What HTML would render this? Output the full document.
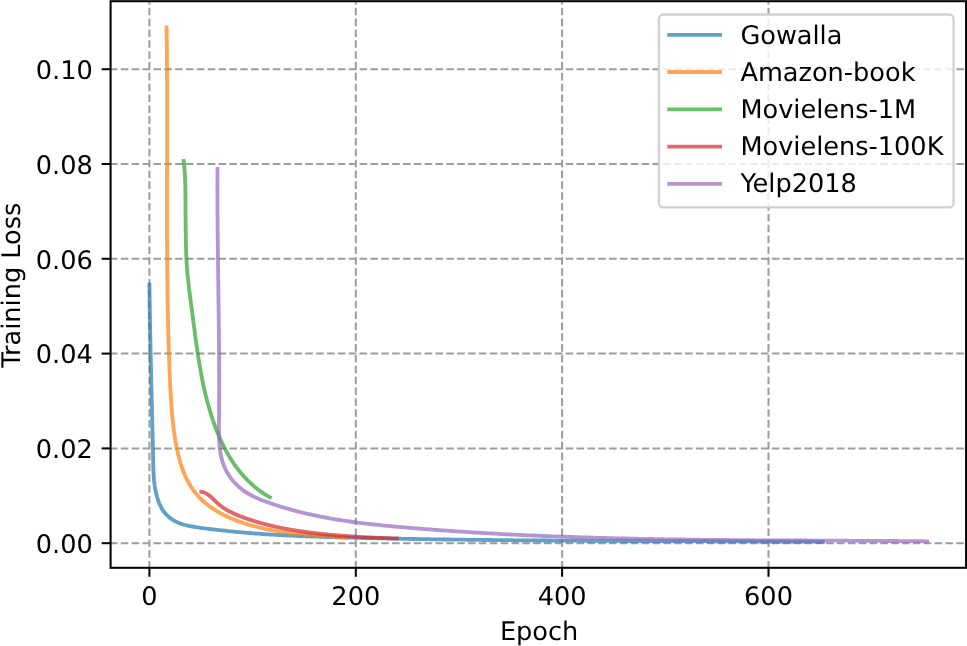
<!DOCTYPE html>
<html><head><meta charset="utf-8"><title>Training Loss</title>
<style>
html,body{margin:0;padding:0;background:#fff;}
body{width:967px;height:646px;overflow:hidden;}
svg{display:block;}
text{text-rendering:geometricPrecision;font-family:"DejaVu Sans","Liberation Sans",sans-serif;font-size:25.6px;fill:#000;}
</style></head><body>
<svg width="967" height="646" viewBox="0 0 967 646">
<rect width="967" height="646" fill="#fff"/>
<g stroke="#9d9d9d" stroke-opacity="1" stroke-width="2.04" stroke-dasharray="7.57 3.28" fill="none">
<path d="M149.4,568.65 V1.2"/>
<path d="M355.8,568.65 V1.2"/>
<path d="M562.1,568.65 V1.2"/>
<path d="M768.5,568.65 V1.2"/>
<path d="M110.0,543.2 H966.1"/>
<path d="M110.0,448.4 H966.1"/>
<path d="M110.0,353.6 H966.1"/>
<path d="M110.0,258.8 H966.1"/>
<path d="M110.0,164.0 H966.1"/>
<path d="M110.0,69.2 H966.1"/>
</g>
<g fill="none" stroke-width="3.84" stroke-opacity="0.7" stroke-linejoin="round">
<path stroke="#1f77b4" d="M149.4,282.8 L149.4,284.6 L149.4,286.4 L149.5,288.2 L149.5,290.1 L149.5,291.9 L149.5,293.7 L149.6,295.5 L149.6,297.3 L149.6,299.1 L149.6,300.9 L149.7,302.7 L149.7,304.5 L149.7,306.3 L149.7,308.1 L149.8,309.9 L149.8,311.7 L149.8,313.5 L149.9,315.3 L149.9,317.1 L149.9,318.9 L150.0,320.7 L150.0,322.5 L150.0,324.3 L150.1,326.1 L150.1,327.9 L150.1,329.7 L150.2,331.5 L150.2,333.3 L150.2,335.1 L150.3,336.9 L150.3,338.7 L150.4,340.5 L150.4,342.3 L150.4,344.0 L150.5,345.8 L150.5,347.6 L150.5,349.4 L150.6,351.2 L150.6,353.0 L150.6,353.1 L150.7,354.8 L150.7,356.6 L150.7,358.4 L150.8,360.2 L150.8,361.9 L150.9,363.7 L150.9,365.5 L151.0,367.3 L151.0,369.1 L151.0,370.9 L151.1,372.7 L151.1,374.5 L151.2,376.2 L151.2,378.0 L151.3,379.8 L151.3,381.6 L151.3,383.4 L151.4,385.2 L151.4,387.0 L151.5,388.8 L151.5,390.6 L151.6,392.3 L151.6,394.1 L151.6,395.9 L151.7,397.7 L151.7,399.5 L151.8,401.3 L151.8,402.6 L151.8,403.1 L151.9,404.9 L151.9,406.7 L152.0,408.5 L152.0,410.3 L152.0,412.1 L152.1,413.8 L152.1,415.6 L152.2,417.4 L152.2,419.2 L152.3,421.0 L152.3,422.8 L152.3,424.6 L152.4,426.4 L152.4,428.2 L152.5,430.0 L152.5,431.8 L152.6,433.6 L152.6,435.4 L152.6,435.7 L152.6,437.2 L152.7,439.0 L152.7,440.8 L152.8,442.6 L152.8,444.4 L152.8,446.3 L152.9,448.1 L152.9,449.9 L153.0,451.7 L153.0,453.5 L153.0,455.3 L153.1,457.1 L153.1,458.9 L153.1,460.0 L153.2,460.7 L153.2,462.6 L153.2,464.4 L153.3,466.2 L153.3,468.0 L153.4,469.8 L153.5,471.6 L153.6,473.4 L153.7,475.2 L153.8,477.1 L153.9,478.9 L154.0,480.2 L154.1,480.6 L154.3,482.4 L154.5,484.2 L154.7,486.0 L155.0,487.8 L155.3,489.5 L155.3,489.5 L155.7,491.3 L156.1,493.1 L156.5,494.8 L156.9,496.5 L157.5,498.3 L157.6,498.7 L158.0,500.0 L158.6,501.7 L159.3,503.4 L160.0,505.0 L160.4,505.9 L160.8,506.6 L161.6,508.2 L162.5,509.7 L163.5,511.2 L164.3,512.2 L164.6,512.6 L165.7,514.0 L166.9,515.2 L168.2,516.4 L168.7,516.9 L169.5,517.6 L170.9,518.6 L172.3,519.6 L173.0,520.0 L173.8,520.5 L175.3,521.3 L176.9,522.1 L178.5,522.8 L180.1,523.4 L181.7,524.0 L181.8,524.0 L183.4,524.5 L185.1,525.0 L186.9,525.4 L188.6,525.8 L190.4,526.2 L191.0,526.3 L192.2,526.5 L194.0,526.8 L195.8,527.1 L197.6,527.4 L199.4,527.6 L200.5,527.8 L201.2,527.9 L203.0,528.1 L204.8,528.3 L206.6,528.6 L208.4,528.8 L209.9,529.0 L210.2,529.0 L212.0,529.3 L213.8,529.5 L215.7,529.7 L217.5,529.9 L219.3,530.1 L221.1,530.3 L222.9,530.5 L224.7,530.7 L225.0,530.7 L226.5,530.9 L228.3,531.1 L230.1,531.3 L231.9,531.4 L233.7,531.6 L235.5,531.8 L237.3,532.0 L239.1,532.1 L239.4,532.1 L240.9,532.3 L242.7,532.4 L244.5,532.6 L246.3,532.8 L248.1,532.9 L249.9,533.0 L251.7,533.2 L253.5,533.3 L255.3,533.5 L257.1,533.6 L258.9,533.7 L260.2,533.8 L260.7,533.9 L262.5,534.0 L264.3,534.1 L266.1,534.2 L267.9,534.4 L269.7,534.5 L271.5,534.6 L273.3,534.7 L275.0,534.8 L276.8,534.9 L278.6,535.0 L278.8,535.0 L280.4,535.1 L282.2,535.2 L284.0,535.3 L285.8,535.4 L287.6,535.5 L289.4,535.6 L291.2,535.7 L293.0,535.7 L294.8,535.8 L296.6,535.9 L297.4,535.9 L298.4,536.0 L300.2,536.1 L301.9,536.1 L303.7,536.2 L305.5,536.3 L307.3,536.4 L309.1,536.4 L310.9,536.5 L312.7,536.6 L314.5,536.6 L316.3,536.7 L318.1,536.7 L319.9,536.8 L321.7,536.9 L323.4,536.9 L325.2,537.0 L327.0,537.0 L328.8,537.1 L330.6,537.1 L332.4,537.2 L334.2,537.2 L336.0,537.3 L337.8,537.3 L339.6,537.4 L341.4,537.4 L343.1,537.5 L344.9,537.5 L346.7,537.6 L348.5,537.6 L350.3,537.7 L352.1,537.7 L353.9,537.8 L355.5,537.8 L355.7,537.8 L357.5,537.8 L359.3,537.9 L361.1,537.9 L362.9,538.0 L364.6,538.0 L366.4,538.0 L368.2,538.1 L370.0,538.1 L371.8,538.2 L373.6,538.2 L375.4,538.2 L377.2,538.3 L379.0,538.3 L380.8,538.4 L382.6,538.4 L384.4,538.4 L386.2,538.5 L388.0,538.5 L389.8,538.5 L391.5,538.6 L393.3,538.6 L395.1,538.6 L396.9,538.7 L398.7,538.7 L399.2,538.7 L400.5,538.7 L402.3,538.8 L404.1,538.8 L405.9,538.8 L407.7,538.9 L409.5,538.9 L411.3,538.9 L413.1,539.0 L414.9,539.0 L416.7,539.0 L418.5,539.1 L420.3,539.1 L422.1,539.1 L423.9,539.2 L425.7,539.2 L427.5,539.2 L429.3,539.2 L431.0,539.3 L432.8,539.3 L434.6,539.3 L436.4,539.3 L438.2,539.4 L440.0,539.4 L441.8,539.4 L443.6,539.5 L445.4,539.5 L447.2,539.5 L449.0,539.5 L450.8,539.6 L452.6,539.6 L454.4,539.6 L456.2,539.6 L458.0,539.7 L459.8,539.7 L459.9,539.7 L461.6,539.7 L463.4,539.7 L465.2,539.7 L467.0,539.8 L468.8,539.8 L470.6,539.8 L472.4,539.8 L474.2,539.9 L476.0,539.9 L477.8,539.9 L479.6,539.9 L481.4,539.9 L483.2,540.0 L485.0,540.0 L486.8,540.0 L488.6,540.0 L490.4,540.0 L492.2,540.1 L494.0,540.1 L495.8,540.1 L497.6,540.1 L499.4,540.1 L501.2,540.1 L503.0,540.2 L504.8,540.2 L506.6,540.2 L508.4,540.2 L510.2,540.2 L512.0,540.2 L513.8,540.3 L515.6,540.3 L517.3,540.3 L519.1,540.3 L520.9,540.3 L522.7,540.3 L524.5,540.4 L526.3,540.4 L528.1,540.4 L529.9,540.4 L531.7,540.4 L533.5,540.4 L535.3,540.4 L537.1,540.5 L538.9,540.5 L540.7,540.5 L542.5,540.5 L544.3,540.5 L546.1,540.5 L547.9,540.5 L549.7,540.5 L551.5,540.6 L553.3,540.6 L555.1,540.6 L556.9,540.6 L558.7,540.6 L560.5,540.6 L561.8,540.6 L562.3,540.6 L564.1,540.6 L565.9,540.7 L567.7,540.7 L569.5,540.7 L571.3,540.7 L573.1,540.7 L574.9,540.7 L576.7,540.7 L578.5,540.7 L580.3,540.7 L582.1,540.7 L583.9,540.8 L585.7,540.8 L587.5,540.8 L589.3,540.8 L591.1,540.8 L592.9,540.8 L594.7,540.8 L596.5,540.8 L598.3,540.8 L600.1,540.8 L601.9,540.9 L603.7,540.9 L605.5,540.9 L607.3,540.9 L609.1,540.9 L610.9,540.9 L612.7,540.9 L614.5,540.9 L616.3,540.9 L618.1,540.9 L619.9,540.9 L620.0,540.9 L621.7,540.9 L623.5,540.9 L625.3,541.0 L627.1,541.0 L628.9,541.0 L630.7,541.0 L632.5,541.0 L634.3,541.0 L636.1,541.0 L637.9,541.0 L639.7,541.0 L641.5,541.0 L643.3,541.0 L645.1,541.0 L646.9,541.0 L648.7,541.0 L650.5,541.1 L652.3,541.1 L654.1,541.1 L655.9,541.1 L657.7,541.1 L659.5,541.1 L661.3,541.1 L663.1,541.1 L664.9,541.1 L666.7,541.1 L668.5,541.1 L670.3,541.1 L672.1,541.1 L673.9,541.1 L675.7,541.1 L677.5,541.1 L679.3,541.2 L681.1,541.2 L682.9,541.2 L684.7,541.2 L686.5,541.2 L688.3,541.2 L690.1,541.2 L691.9,541.2 L693.7,541.2 L695.5,541.2 L697.3,541.2 L699.1,541.2 L700.9,541.2 L702.7,541.2 L704.5,541.2 L706.3,541.2 L708.1,541.3 L709.9,541.3 L711.7,541.3 L713.5,541.3 L715.3,541.3 L717.1,541.3 L718.9,541.3 L720.7,541.3 L722.5,541.3 L724.3,541.3 L726.1,541.3 L727.9,541.3 L729.7,541.3 L731.5,541.3 L733.3,541.3 L735.1,541.3 L736.9,541.4 L738.7,541.4 L740.5,541.4 L742.2,541.4 L744.0,541.4 L745.8,541.4 L747.6,541.4 L749.4,541.4 L751.2,541.4 L753.0,541.4 L754.8,541.4 L756.6,541.4 L758.4,541.4 L760.2,541.5 L762.0,541.5 L763.8,541.5 L765.6,541.5 L767.4,541.5 L769.2,541.5 L771.0,541.5 L772.8,541.5 L774.6,541.5 L776.4,541.5 L778.2,541.5 L780.0,541.5 L780.1,541.5 L781.8,541.5 L783.6,541.6 L785.3,541.6 L787.1,541.6 L788.9,541.6 L790.7,541.6 L792.5,541.6 L794.3,541.6 L796.1,541.6 L797.9,541.6 L799.7,541.6 L801.5,541.7 L803.3,541.7 L805.1,541.7 L806.9,541.7 L808.7,541.7 L810.5,541.7 L812.3,541.7 L814.0,541.7 L815.8,541.7 L817.6,541.8 L819.4,541.8 L821.2,541.8 L823.0,541.8 L824.8,541.8"/>
<path stroke="#ff7f0e" d="M166.5,25.4 L166.5,26.7 L166.5,27.9 L166.6,29.2 L166.6,30.5 L166.6,31.7 L166.6,33.0 L166.6,34.2 L166.7,35.5 L166.7,36.8 L166.7,38.0 L166.7,39.3 L166.7,40.6 L166.7,41.8 L166.8,43.1 L166.8,44.4 L166.8,45.6 L166.8,46.9 L166.8,48.2 L166.8,49.4 L166.8,50.7 L166.9,52.0 L166.9,53.2 L166.9,54.5 L166.9,55.8 L166.9,57.0 L166.9,58.3 L166.9,59.6 L166.9,60.8 L166.9,62.1 L167.0,63.4 L167.0,64.7 L167.0,65.9 L167.0,67.2 L167.0,68.5 L167.0,69.7 L167.0,71.0 L167.0,72.3 L167.0,73.6 L167.0,74.8 L167.0,76.1 L167.0,77.4 L167.1,78.6 L167.1,79.9 L167.1,81.2 L167.1,82.5 L167.1,83.7 L167.1,85.0 L167.1,86.3 L167.1,87.5 L167.1,88.8 L167.1,90.1 L167.1,91.4 L167.1,92.6 L167.1,93.9 L167.1,95.2 L167.1,96.5 L167.1,97.7 L167.1,99.0 L167.1,100.3 L167.1,101.6 L167.1,102.8 L167.1,104.1 L167.1,105.4 L167.1,106.7 L167.1,107.9 L167.1,109.2 L167.1,110.5 L167.1,111.8 L167.1,113.0 L167.1,114.3 L167.1,115.6 L167.1,116.9 L167.1,118.1 L167.1,119.4 L167.1,120.7 L167.1,122.0 L167.1,123.2 L167.1,124.5 L167.1,125.8 L167.1,127.1 L167.1,128.4 L167.1,129.6 L167.1,130.9 L167.1,132.2 L167.1,133.5 L167.1,134.7 L167.1,136.0 L167.1,137.3 L167.1,138.6 L167.1,138.8 L167.1,139.9 L167.1,141.1 L167.1,142.4 L167.1,143.7 L167.1,145.0 L167.1,146.2 L167.1,147.5 L167.1,148.8 L167.1,150.1 L167.1,151.4 L167.1,152.6 L167.1,153.9 L167.1,155.2 L167.1,156.5 L167.1,157.8 L167.1,159.0 L167.1,160.3 L167.1,161.6 L167.1,162.9 L167.1,164.2 L167.1,165.4 L167.1,166.7 L167.1,168.0 L167.1,169.3 L167.1,170.6 L167.0,171.8 L167.0,173.1 L167.0,174.4 L167.0,175.7 L167.0,176.9 L167.0,178.2 L167.0,179.5 L167.0,180.8 L167.0,182.1 L167.0,183.3 L167.0,184.6 L167.0,185.9 L167.0,187.2 L167.0,188.5 L167.0,189.7 L167.0,191.0 L167.0,192.3 L167.0,193.6 L167.0,194.9 L167.0,196.1 L167.0,197.4 L167.0,198.7 L167.0,200.0 L167.0,201.3 L167.0,202.5 L167.0,203.8 L167.0,205.1 L167.0,206.4 L167.0,207.7 L167.0,208.9 L167.0,210.2 L167.0,211.5 L167.0,212.8 L167.0,214.1 L167.0,215.3 L167.0,216.6 L167.0,217.9 L167.0,219.2 L167.0,220.5 L167.0,221.7 L167.0,223.0 L167.0,224.3 L167.0,225.6 L167.0,226.9 L167.0,228.1 L167.0,229.4 L167.0,230.7 L167.0,232.0 L167.0,233.2 L167.0,234.5 L167.0,235.8 L167.0,237.1 L167.0,238.4 L167.0,239.6 L167.0,240.9 L167.1,242.2 L167.1,243.5 L167.1,244.8 L167.1,246.0 L167.1,246.3 L167.1,247.3 L167.1,248.6 L167.1,249.9 L167.1,251.1 L167.1,252.4 L167.1,253.7 L167.1,255.0 L167.1,256.3 L167.1,257.5 L167.1,258.8 L167.2,260.1 L167.2,261.4 L167.2,262.6 L167.2,263.9 L167.2,265.2 L167.2,266.5 L167.2,267.7 L167.2,269.0 L167.2,270.3 L167.2,271.6 L167.3,272.8 L167.3,274.1 L167.3,275.4 L167.3,276.7 L167.3,277.9 L167.3,279.2 L167.3,280.5 L167.3,281.8 L167.4,283.0 L167.4,284.3 L167.4,285.6 L167.4,286.9 L167.4,288.1 L167.4,289.4 L167.5,290.7 L167.5,292.0 L167.5,293.2 L167.5,294.5 L167.5,295.8 L167.6,297.1 L167.6,298.3 L167.6,299.6 L167.6,300.9 L167.6,302.1 L167.7,303.4 L167.7,304.7 L167.7,306.0 L167.7,307.2 L167.7,308.5 L167.8,309.8 L167.8,311.1 L167.8,312.3 L167.8,313.6 L167.9,314.9 L167.9,316.1 L167.9,317.4 L168.0,318.7 L168.0,319.9 L168.0,321.2 L168.0,322.5 L168.1,323.8 L168.1,325.0 L168.1,326.3 L168.2,327.6 L168.2,328.8 L168.2,330.1 L168.3,331.4 L168.3,332.6 L168.3,333.9 L168.4,335.2 L168.4,336.4 L168.4,337.7 L168.5,339.0 L168.5,340.2 L168.5,341.5 L168.6,342.8 L168.6,344.0 L168.6,345.3 L168.7,346.6 L168.7,347.8 L168.8,349.1 L168.8,350.3 L168.8,351.6 L168.9,352.9 L168.9,353.1 L168.9,354.1 L169.0,355.4 L169.0,356.7 L169.1,357.9 L169.1,359.2 L169.1,360.5 L169.2,361.7 L169.2,363.0 L169.3,364.2 L169.3,365.5 L169.4,366.8 L169.4,368.0 L169.5,369.3 L169.5,370.5 L169.6,371.8 L169.6,373.1 L169.7,374.3 L169.7,375.6 L169.8,376.8 L169.8,377.7 L169.9,378.1 L169.9,379.4 L170.0,380.6 L170.0,381.9 L170.1,383.1 L170.1,384.4 L170.2,385.6 L170.3,386.9 L170.3,388.2 L170.4,389.4 L170.5,390.7 L170.5,391.9 L170.6,393.2 L170.7,394.4 L170.7,395.7 L170.8,397.0 L170.9,398.2 L171.0,399.5 L171.1,400.7 L171.1,402.0 L171.2,402.4 L171.2,403.3 L171.3,404.5 L171.4,405.8 L171.5,407.1 L171.6,408.3 L171.7,409.6 L171.8,410.9 L171.9,412.1 L172.0,413.4 L172.2,414.7 L172.3,415.9 L172.4,417.2 L172.5,418.5 L172.6,419.6 L172.7,419.8 L172.8,421.0 L172.9,422.3 L173.1,423.6 L173.2,424.9 L173.4,426.2 L173.5,427.5 L173.7,428.7 L173.7,429.1 L173.8,430.0 L174.0,431.3 L174.2,432.6 L174.4,433.9 L174.5,435.2 L174.7,436.5 L174.9,437.8 L175.1,438.7 L175.1,439.1 L175.3,440.4 L175.6,441.7 L175.8,443.0 L176.0,444.2 L176.3,445.5 L176.5,446.8 L176.8,448.1 L176.8,448.2 L177.0,449.4 L177.3,450.7 L177.6,451.9 L177.9,453.2 L178.2,454.5 L178.5,455.7 L178.8,457.0 L179.1,458.3 L179.4,459.4 L179.5,459.5 L179.8,460.7 L180.2,462.0 L180.5,463.2 L180.9,464.4 L181.3,465.7 L181.7,466.9 L182.1,468.1 L182.4,468.7 L182.6,469.3 L183.0,470.5 L183.5,471.7 L183.9,472.8 L184.4,474.0 L184.9,475.2 L185.4,476.3 L185.9,477.4 L186.5,478.6 L187.0,479.7 L187.3,480.3 L187.6,480.8 L188.2,481.9 L188.8,483.0 L189.4,484.1 L190.0,485.1 L190.6,486.2 L191.3,487.2 L191.6,487.6 L192.0,488.2 L192.7,489.3 L193.4,490.3 L194.1,491.2 L194.9,492.2 L195.6,493.2 L196.1,493.8 L196.4,494.1 L197.2,495.1 L198.0,496.0 L198.8,496.9 L199.7,497.8 L200.6,498.6 L200.7,498.8 L201.4,499.5 L202.3,500.3 L203.3,501.2 L204.2,502.0 L205.1,502.8 L206.1,503.6 L207.1,504.4 L208.1,505.2 L208.4,505.4 L209.1,505.9 L210.1,506.7 L211.1,507.4 L212.1,508.1 L213.2,508.8 L214.3,509.5 L215.3,510.2 L216.4,510.8 L217.5,511.5 L217.5,511.5 L218.6,512.1 L219.7,512.8 L220.9,513.4 L222.0,514.0 L223.1,514.6 L224.3,515.2 L224.7,515.4 L225.5,515.7 L226.6,516.3 L227.8,516.9 L229.0,517.4 L230.2,517.9 L231.4,518.4 L232.6,519.0 L233.8,519.5 L235.0,519.9 L236.2,520.4 L236.2,520.4 L237.4,520.9 L238.7,521.3 L239.9,521.8 L241.1,522.2 L242.4,522.6 L243.6,523.1 L244.9,523.5 L245.8,523.8 L246.1,523.9 L247.4,524.3 L248.6,524.6 L249.9,525.0 L251.1,525.4 L252.4,525.7 L253.6,526.1 L254.9,526.4 L255.3,526.5 L256.1,526.7 L257.4,527.0 L258.6,527.3 L259.9,527.6 L260.3,527.8 L261.1,527.9 L262.4,528.2 L263.6,528.5 L264.9,528.8 L266.1,529.0 L267.3,529.3 L268.6,529.5 L269.8,529.8 L271.1,530.0 L272.3,530.2 L273.6,530.5 L274.8,530.7 L276.1,530.9 L277.3,531.1 L278.5,531.3 L278.8,531.3 L279.8,531.5 L281.0,531.7 L282.3,531.9 L283.5,532.0 L284.8,532.2 L286.0,532.4 L287.3,532.5 L288.5,532.7 L289.7,532.8 L291.0,533.0 L292.2,533.1 L293.5,533.3 L294.7,533.4 L296.0,533.6 L297.2,533.7 L297.2,533.7 L298.5,533.8 L299.7,533.9 L301.0,534.1 L302.2,534.2 L303.5,534.3 L304.7,534.4 L306.0,534.5 L307.2,534.6 L308.5,534.7 L309.7,534.8 L311.0,534.9 L312.3,535.1 L313.5,535.2 L314.8,535.3 L315.6,535.3 L316.0,535.4 L317.3,535.5 L318.6,535.6 L319.8,535.7 L321.1,535.7 L322.3,535.8 L323.6,535.9 L324.9,536.0 L326.2,536.1 L327.4,536.2 L328.7,536.3 L330.0,536.4 L331.2,536.5 L332.5,536.6 L333.8,536.7 L335.1,536.8 L336.4,537.0 L337.7,537.1 L338.9,537.2 L339.8,537.2 L340.2,537.3 L341.5,537.4 L342.8,537.5 L344.1,537.6 L345.4,537.7 L346.7,537.9 L348.0,538.0"/>
<path stroke="#2ca02c" d="M183.4,158.9 L183.5,159.6 L183.6,160.3 L183.7,161.1 L183.8,161.8 L183.8,162.5 L183.9,163.2 L184.0,164.0 L184.1,164.7 L184.1,165.4 L184.2,166.1 L184.3,166.9 L184.4,167.6 L184.4,168.3 L184.5,169.1 L184.5,169.8 L184.6,170.5 L184.6,171.2 L184.7,172.0 L184.7,172.1 L184.7,172.7 L184.8,173.4 L184.8,174.1 L184.9,174.9 L184.9,175.6 L184.9,176.3 L185.0,177.1 L185.0,177.8 L185.1,178.5 L185.1,179.2 L185.1,180.0 L185.1,180.7 L185.2,181.4 L185.2,182.2 L185.2,182.9 L185.2,183.6 L185.3,184.3 L185.3,185.1 L185.3,185.8 L185.3,186.5 L185.3,187.3 L185.3,188.0 L185.4,188.7 L185.4,189.4 L185.4,190.2 L185.4,190.9 L185.4,191.6 L185.4,192.4 L185.4,193.1 L185.4,193.8 L185.4,194.5 L185.4,195.3 L185.5,196.0 L185.5,196.7 L185.5,197.5 L185.5,198.2 L185.5,198.9 L185.5,199.7 L185.5,200.4 L185.5,201.1 L185.5,201.8 L185.5,202.6 L185.5,203.3 L185.5,204.0 L185.5,204.8 L185.5,205.2 L185.5,205.5 L185.5,206.2 L185.5,207.0 L185.5,207.7 L185.5,208.4 L185.5,209.1 L185.5,209.9 L185.5,210.6 L185.5,211.3 L185.5,212.1 L185.5,212.8 L185.5,213.5 L185.6,214.2 L185.6,215.0 L185.6,215.7 L185.6,216.4 L185.6,217.2 L185.6,217.9 L185.6,218.6 L185.6,219.4 L185.6,220.1 L185.6,220.8 L185.6,221.5 L185.6,222.3 L185.6,223.0 L185.6,223.7 L185.6,224.5 L185.7,225.2 L185.7,225.9 L185.7,226.6 L185.7,227.4 L185.7,228.1 L185.7,228.8 L185.7,229.6 L185.7,230.3 L185.7,231.0 L185.7,231.7 L185.7,232.5 L185.8,233.2 L185.8,233.9 L185.8,234.7 L185.8,235.4 L185.8,236.1 L185.8,236.8 L185.8,237.6 L185.8,238.3 L185.9,239.0 L185.9,239.8 L185.9,240.5 L185.9,241.2 L185.9,242.0 L185.9,242.7 L185.9,243.4 L185.9,244.1 L186.0,244.9 L186.0,245.6 L186.0,246.0 L186.0,246.3 L186.0,247.1 L186.0,247.8 L186.0,248.5 L186.1,249.2 L186.1,250.0 L186.1,250.7 L186.1,251.4 L186.1,252.2 L186.2,252.9 L186.2,253.6 L186.2,254.3 L186.2,255.1 L186.3,255.8 L186.3,256.5 L186.3,257.3 L186.4,258.0 L186.4,258.7 L186.4,259.2 L186.4,259.4 L186.5,260.2 L186.5,260.9 L186.5,261.6 L186.6,262.4 L186.6,263.1 L186.7,263.8 L186.7,264.5 L186.8,265.3 L186.8,266.0 L186.9,266.7 L186.9,267.4 L187.0,268.2 L187.0,268.9 L187.1,269.6 L187.2,270.4 L187.2,271.1 L187.3,271.8 L187.4,272.5 L187.4,273.3 L187.5,274.0 L187.6,274.7 L187.6,275.4 L187.7,276.2 L187.8,276.9 L187.8,277.6 L187.9,278.3 L188.0,279.1 L188.0,279.1 L188.1,279.8 L188.1,280.5 L188.2,281.2 L188.3,282.0 L188.4,282.7 L188.5,283.4 L188.5,284.1 L188.6,284.9 L188.7,285.6 L188.8,286.3 L188.9,287.0 L189.0,287.8 L189.1,288.5 L189.2,289.2 L189.2,289.9 L189.3,290.7 L189.4,291.4 L189.5,292.1 L189.6,292.8 L189.7,293.6 L189.8,294.3 L189.9,295.0 L190.0,295.7 L190.1,296.5 L190.2,297.2 L190.3,297.9 L190.4,298.6 L190.4,299.4 L190.5,300.1 L190.6,300.8 L190.7,301.5 L190.8,302.3 L190.9,303.0 L191.0,303.7 L191.1,304.4 L191.2,305.2 L191.3,305.9 L191.4,306.6 L191.5,307.3 L191.6,308.0 L191.7,308.8 L191.8,309.5 L191.9,310.2 L192.0,310.9 L192.1,311.7 L192.2,312.1 L192.2,312.4 L192.3,313.1 L192.4,313.8 L192.5,314.6 L192.6,315.3 L192.7,316.0 L192.8,316.7 L192.9,317.5 L193.0,318.2 L193.0,318.9 L193.1,319.6 L193.2,320.3 L193.3,321.1 L193.4,321.8 L193.5,322.5 L193.6,323.2 L193.7,324.0 L193.8,324.7 L193.9,325.4 L194.0,326.1 L194.1,326.9 L194.2,327.6 L194.3,328.3 L194.4,329.0 L194.5,329.7 L194.6,330.5 L194.7,331.2 L194.7,331.9 L194.8,332.6 L194.9,333.4 L195.0,334.1 L195.1,334.8 L195.2,335.4 L195.2,335.5 L195.3,336.2 L195.4,337.0 L195.5,337.7 L195.6,338.4 L195.7,339.1 L195.8,339.9 L195.9,340.6 L196.0,341.3 L196.1,342.0 L196.2,342.7 L196.3,343.5 L196.4,344.2 L196.5,344.9 L196.6,345.6 L196.7,346.3 L196.8,347.1 L196.9,347.8 L197.0,348.5 L197.1,349.2 L197.2,349.9 L197.3,350.7 L197.4,351.4 L197.6,352.1 L197.7,352.8 L197.7,353.0 L197.8,353.5 L197.9,354.3 L198.0,355.0 L198.1,355.7 L198.2,356.4 L198.3,357.1 L198.4,357.9 L198.5,358.6 L198.7,359.3 L198.8,360.0 L198.9,360.7 L199.0,361.4 L199.1,362.2 L199.2,362.9 L199.3,363.6 L199.5,364.3 L199.6,365.0 L199.7,365.7 L199.8,366.5 L200.0,367.2 L200.1,367.9 L200.2,368.6 L200.3,369.3 L200.5,370.0 L200.6,370.8 L200.7,371.5 L200.8,372.2 L201.0,372.9 L201.1,373.6 L201.2,374.3 L201.3,374.5 L201.4,375.0 L201.5,375.8 L201.6,376.5 L201.8,377.2 L201.9,377.9 L202.1,378.6 L202.2,379.3 L202.3,380.0 L202.5,380.7 L202.6,381.5 L202.8,382.2 L202.9,382.9 L203.1,383.6 L203.2,384.3 L203.4,385.0 L203.5,385.7 L203.7,386.4 L203.8,387.1 L204.0,387.9 L204.1,388.6 L204.3,389.3 L204.5,390.0 L204.6,390.7 L204.8,391.4 L204.9,392.1 L205.1,392.8 L205.3,393.5 L205.4,394.2 L205.6,394.9 L205.8,395.6 L206.0,396.4 L206.1,397.1 L206.3,397.6 L206.3,397.8 L206.5,398.5 L206.7,399.2 L206.9,399.9 L207.0,400.6 L207.2,401.3 L207.4,402.0 L207.6,402.7 L207.8,403.4 L208.0,404.1 L208.2,404.8 L208.4,405.5 L208.6,406.2 L208.8,406.9 L209.0,407.6 L209.2,408.3 L209.4,409.0 L209.6,409.7 L209.8,410.4 L210.0,411.1 L210.2,411.8 L210.4,412.5 L210.6,413.2 L210.9,413.9 L211.1,414.6 L211.3,415.3 L211.4,415.7 L211.5,416.0 L211.7,416.7 L212.0,417.4 L212.2,418.1 L212.4,418.8 L212.7,419.5 L212.8,420.0 L212.9,420.2 L213.1,420.9 L213.4,421.6 L213.6,422.3 L213.9,423.0 L214.1,423.7 L214.4,424.3 L214.6,425.0 L214.9,425.7 L215.1,426.4 L215.4,427.1 L215.6,427.8 L215.9,428.5 L216.2,429.2 L216.3,429.5 L216.4,429.9 L216.7,430.5 L217.0,431.2 L217.2,431.9 L217.5,432.6 L217.8,433.3 L218.1,433.9 L218.4,434.6 L218.6,435.3 L218.9,436.0 L219.2,436.6 L219.5,437.3 L219.8,438.0 L220.1,438.7 L220.2,438.8 L220.4,439.3 L220.7,440.0 L221.0,440.7 L221.3,441.3 L221.6,442.0 L221.9,442.7 L222.3,443.3 L222.6,444.0 L222.9,444.6 L223.2,445.3 L223.5,446.0 L223.9,446.6 L224.2,447.3 L224.5,447.9 L224.9,448.6 L225.1,448.9 L225.2,449.2 L225.6,449.8 L225.9,450.5 L226.2,451.1 L226.6,451.8 L226.9,452.4 L227.3,453.0 L227.7,453.7 L228.0,454.3 L228.4,454.9 L228.8,455.6 L229.1,456.2 L229.5,456.8 L229.8,457.3 L229.9,457.4 L230.3,458.1 L230.6,458.7 L231.0,459.3 L231.4,459.9 L231.8,460.5 L232.2,461.1 L232.6,461.7 L233.0,462.3 L233.4,462.9 L233.8,463.5 L234.2,464.1 L234.5,464.5 L234.6,464.7 L235.0,465.3 L235.5,465.9 L235.9,466.5 L236.3,467.1 L236.7,467.6 L237.2,468.2 L237.6,468.8 L238.0,469.4 L238.5,469.9 L238.9,470.5 L239.4,471.1 L239.8,471.6 L240.3,472.2 L240.6,472.5 L240.7,472.7 L241.2,473.3 L241.7,473.9 L242.1,474.4 L242.6,474.9 L243.1,475.5 L243.6,476.0 L244.0,476.6 L244.5,477.1 L245.0,477.6 L245.5,478.1 L246.0,478.7 L246.5,479.2 L247.0,479.7 L247.5,480.2 L247.5,480.2 L248.0,480.7 L248.5,481.2 L249.0,481.7 L249.6,482.2 L250.1,482.7 L250.6,483.2 L251.2,483.7 L251.7,484.2 L252.2,484.7 L252.8,485.2 L253.3,485.6 L253.9,486.1 L254.4,486.6 L255.0,487.0 L255.5,487.5 L255.6,487.6 L256.1,488.0 L256.7,488.4 L257.2,488.9 L257.8,489.3 L258.4,489.8 L259.0,490.2 L259.6,490.6 L260.2,491.1 L260.8,491.5 L261.4,491.9 L262.0,492.3 L262.6,492.7 L263.2,493.2 L263.8,493.6 L263.9,493.6 L264.4,494.0 L265.0,494.4 L265.7,494.7 L266.3,495.1 L266.9,495.5 L267.6,495.9 L268.2,496.3 L268.9,496.7 L269.5,497.0 L270.2,497.4 L270.8,497.7 L271.5,498.1"/>
<path stroke="#d62728" d="M199.4,491.6 L199.9,491.6 L200.3,491.7 L200.8,491.7 L201.2,491.8 L201.6,491.8 L202.0,491.9 L202.4,492.0 L202.9,492.1 L203.3,492.2 L203.6,492.4 L204.0,492.5 L204.4,492.6 L204.8,492.8 L205.2,493.0 L205.4,493.1 L205.5,493.2 L205.9,493.3 L206.2,493.5 L206.6,493.7 L206.9,493.9 L207.3,494.2 L207.6,494.4 L208.0,494.6 L208.3,494.9 L208.6,495.1 L208.9,495.3 L209.3,495.6 L209.6,495.9 L209.8,496.1 L209.9,496.1 L210.2,496.4 L210.5,496.7 L210.8,496.9 L211.2,497.2 L211.5,497.5 L211.8,497.8 L212.1,498.1 L212.4,498.3 L212.7,498.6 L213.0,498.9 L213.3,499.2 L213.6,499.5 L213.9,499.8 L214.2,500.1 L214.5,500.4 L214.8,500.7 L214.8,500.7 L215.1,501.0 L215.4,501.2 L215.7,501.5 L216.0,501.8 L216.3,502.1 L216.6,502.4 L216.9,502.7 L217.3,503.0 L217.6,503.2 L217.9,503.5 L218.2,503.8 L218.5,504.1 L218.8,504.3 L219.2,504.6 L219.5,504.9 L219.5,504.9 L219.8,505.1 L220.1,505.4 L220.5,505.6 L220.8,505.9 L221.1,506.1 L221.5,506.4 L221.8,506.6 L222.1,506.9 L222.5,507.1 L222.8,507.4 L223.2,507.6 L223.5,507.8 L223.8,508.1 L224.2,508.3 L224.5,508.5 L224.9,508.8 L225.0,508.8 L225.2,509.0 L225.6,509.2 L225.9,509.4 L226.3,509.6 L226.7,509.8 L227.0,510.1 L227.2,510.2 L227.4,510.3 L227.7,510.5 L228.1,510.7 L228.5,510.9 L228.8,511.1 L229.2,511.3 L229.6,511.5 L229.9,511.7 L230.3,511.9 L230.7,512.1 L231.1,512.2 L231.4,512.4 L231.8,512.6 L232.2,512.8 L232.6,513.0 L232.9,513.2 L233.3,513.3 L233.7,513.5 L234.1,513.7 L234.5,513.9 L234.8,514.0 L235.2,514.2 L235.6,514.4 L236.0,514.5 L236.4,514.7 L236.4,514.7 L236.8,514.9 L237.2,515.0 L237.6,515.2 L237.9,515.4 L238.3,515.5 L238.7,515.7 L239.1,515.8 L239.5,516.0 L239.9,516.1 L240.3,516.3 L240.7,516.5 L241.1,516.6 L241.5,516.8 L241.9,516.9 L242.3,517.0 L242.7,517.2 L243.1,517.3 L243.4,517.5 L243.8,517.6 L244.2,517.8 L244.6,517.9 L245.0,518.1 L245.4,518.2 L245.7,518.3 L245.8,518.3 L246.2,518.5 L246.6,518.6 L247.0,518.7 L247.4,518.9 L247.8,519.0 L248.2,519.2 L248.6,519.3 L249.0,519.4 L249.4,519.6 L249.8,519.7 L250.2,519.8 L250.6,519.9 L251.0,520.1 L251.4,520.2 L251.8,520.3 L252.2,520.5 L252.6,520.6 L253.0,520.7 L253.4,520.8 L253.8,521.0 L254.2,521.1 L254.6,521.2 L255.0,521.3 L255.4,521.5 L255.8,521.6 L256.2,521.7 L256.6,521.8 L257.0,521.9 L257.4,522.1 L257.8,522.2 L258.2,522.3 L258.6,522.4 L259.0,522.5 L259.5,522.6 L259.9,522.8 L260.1,522.8 L260.3,522.9 L260.7,523.0 L261.1,523.1 L261.5,523.2 L261.9,523.3 L262.3,523.4 L262.7,523.5 L263.1,523.6 L263.5,523.8 L263.9,523.9 L264.3,524.0 L264.7,524.1 L265.1,524.2 L265.5,524.3 L265.9,524.4 L266.3,524.5 L266.7,524.6 L267.1,524.7 L267.5,524.8 L267.9,524.9 L268.4,525.0 L268.8,525.1 L269.2,525.2 L269.6,525.3 L270.0,525.4 L270.4,525.5 L270.8,525.6 L271.2,525.7 L271.6,525.8 L272.0,525.9 L272.4,526.0 L272.8,526.1 L273.2,526.2 L273.6,526.3 L274.1,526.4 L274.5,526.4 L274.9,526.5 L275.3,526.6 L275.7,526.7 L276.1,526.8 L276.5,526.9 L276.9,527.0 L277.3,527.1 L277.7,527.2 L278.1,527.3 L278.5,527.3 L278.6,527.4 L279.0,527.4 L279.4,527.5 L279.8,527.6 L280.2,527.7 L280.6,527.8 L281.0,527.8 L281.4,527.9 L281.8,528.0 L282.2,528.1 L282.6,528.2 L283.1,528.3 L283.5,528.3 L283.9,528.4 L284.3,528.5 L284.7,528.6 L285.1,528.6 L285.5,528.7 L285.9,528.8 L286.3,528.9 L286.7,529.0 L287.2,529.0 L287.6,529.1 L288.0,529.2 L288.4,529.3 L288.8,529.3 L289.2,529.4 L289.6,529.5 L290.0,529.5 L290.5,529.6 L290.9,529.7 L291.3,529.8 L291.7,529.8 L292.1,529.9 L292.5,530.0 L292.9,530.0 L293.3,530.1 L293.8,530.2 L294.2,530.2 L294.6,530.3 L295.0,530.4 L295.4,530.4 L295.8,530.5 L296.2,530.6 L296.6,530.6 L297.1,530.7 L297.2,530.7 L297.5,530.8 L297.9,530.8 L298.3,530.9 L298.7,531.0 L299.1,531.0 L299.5,531.1 L300.0,531.2 L300.4,531.2 L300.8,531.3 L301.2,531.3 L301.6,531.4 L302.0,531.5 L302.4,531.5 L302.9,531.6 L303.3,531.6 L303.7,531.7 L304.1,531.7 L304.5,531.8 L304.9,531.9 L305.3,531.9 L305.8,532.0 L306.2,532.0 L306.6,532.1 L307.0,532.1 L307.4,532.2 L307.8,532.3 L308.2,532.3 L308.7,532.4 L309.1,532.4 L309.5,532.5 L309.9,532.5 L310.3,532.6 L310.7,532.6 L311.2,532.7 L311.6,532.7 L312.0,532.8 L312.4,532.8 L312.8,532.9 L313.2,532.9 L313.6,533.0 L314.1,533.0 L314.5,533.1 L314.9,533.1 L315.3,533.2 L315.7,533.2 L315.8,533.2 L316.1,533.3 L316.6,533.3 L317.0,533.4 L317.4,533.4 L317.8,533.5 L318.2,533.5 L318.6,533.6 L319.1,533.6 L319.5,533.7 L319.9,533.7 L320.3,533.7 L320.7,533.8 L321.1,533.8 L321.6,533.9 L322.0,533.9 L322.4,534.0 L322.8,534.0 L323.2,534.1 L323.6,534.1 L324.1,534.1 L324.5,534.2 L324.9,534.2 L325.3,534.3 L325.7,534.3 L326.1,534.4 L326.6,534.4 L327.0,534.4 L327.4,534.5 L327.8,534.5 L328.2,534.6 L328.6,534.6 L329.1,534.6 L329.5,534.7 L329.9,534.7 L330.3,534.8 L330.7,534.8 L331.1,534.8 L331.6,534.9 L332.0,534.9 L332.4,534.9 L332.8,535.0 L333.2,535.0 L333.7,535.1 L334.1,535.1 L334.5,535.1 L334.9,535.2 L335.3,535.2 L335.7,535.2 L336.2,535.3 L336.6,535.3 L337.0,535.3 L337.4,535.4 L337.8,535.4 L338.2,535.4 L338.7,535.5 L339.1,535.5 L339.5,535.5 L339.9,535.6 L340.0,535.6 L340.3,535.6 L340.8,535.6 L341.2,535.7 L341.6,535.7 L342.0,535.7 L342.4,535.8 L342.8,535.8 L343.3,535.8 L343.7,535.9 L344.1,535.9 L344.5,535.9 L344.9,536.0 L345.4,536.0 L345.8,536.0 L346.2,536.1 L346.6,536.1 L347.0,536.1 L347.4,536.1 L347.9,536.2 L348.3,536.2 L348.7,536.2 L349.1,536.3 L349.5,536.3 L350.0,536.3 L350.4,536.3 L350.8,536.4 L351.2,536.4 L351.6,536.4 L352.0,536.4 L352.5,536.5 L352.9,536.5 L353.3,536.5 L353.7,536.6 L354.1,536.6 L354.6,536.6 L355.0,536.6 L355.4,536.7 L355.5,536.7 L355.8,536.7 L356.2,536.7 L356.7,536.7 L357.1,536.8 L357.5,536.8 L357.9,536.8 L358.3,536.8 L358.7,536.9 L359.2,536.9 L359.6,536.9 L360.0,536.9 L360.4,537.0 L360.8,537.0 L361.3,537.0 L361.7,537.0 L362.1,537.0 L362.5,537.1 L362.9,537.1 L363.4,537.1 L363.8,537.1 L364.2,537.2 L364.6,537.2 L365.0,537.2 L365.4,537.2 L365.9,537.2 L366.3,537.3 L366.7,537.3 L367.1,537.3 L367.5,537.3 L368.0,537.3 L368.4,537.4 L368.8,537.4 L369.2,537.4 L369.6,537.4 L370.1,537.4 L370.5,537.5 L370.9,537.5 L371.3,537.5 L371.7,537.5 L372.1,537.5 L372.6,537.6 L373.0,537.6 L373.4,537.6 L373.8,537.6 L374.2,537.6 L374.7,537.6 L375.1,537.7 L375.5,537.7 L375.9,537.7 L376.3,537.7 L376.8,537.7 L377.2,537.8 L377.6,537.8 L378.0,537.8 L378.4,537.8 L378.8,537.8 L379.3,537.8 L379.7,537.9 L380.1,537.9 L380.5,537.9 L380.9,537.9 L381.4,537.9 L381.8,537.9 L382.2,538.0 L382.6,538.0 L382.8,538.0 L383.0,538.0 L383.4,538.0 L383.9,538.0 L384.3,538.0 L384.7,538.0 L385.1,538.1 L385.5,538.1 L386.0,538.1 L386.4,538.1 L386.8,538.1 L387.2,538.1 L387.6,538.2 L388.1,538.2 L388.5,538.2 L388.9,538.2 L389.3,538.2 L389.7,538.2 L390.1,538.2 L390.6,538.3 L391.0,538.3 L391.4,538.3 L391.8,538.3 L392.2,538.3 L392.7,538.3 L393.1,538.3 L393.5,538.3 L393.9,538.4 L394.3,538.4 L394.7,538.4 L395.2,538.4 L395.6,538.4 L396.0,538.4 L396.4,538.4 L396.8,538.4 L397.2,538.5 L397.7,538.5 L398.1,538.5 L398.5,538.5"/>
<path stroke="#9467bd" d="M217.5,167.1 L217.5,169.2 L217.5,171.3 L217.5,173.3 L217.5,175.4 L217.5,177.5 L217.5,179.6 L217.5,181.6 L217.4,183.7 L217.4,185.8 L217.4,187.8 L217.4,189.9 L217.5,192.0 L217.5,194.0 L217.5,196.1 L217.5,198.1 L217.5,200.2 L217.5,202.3 L217.5,204.3 L217.5,206.4 L217.5,208.4 L217.5,210.5 L217.5,212.5 L217.5,214.6 L217.6,216.6 L217.6,218.7 L217.6,220.7 L217.6,222.8 L217.6,224.8 L217.6,226.9 L217.6,228.9 L217.7,230.9 L217.7,233.0 L217.7,235.0 L217.7,237.1 L217.7,239.1 L217.8,241.1 L217.8,243.2 L217.8,245.2 L217.8,246.2 L217.8,247.3 L217.9,249.3 L217.9,251.3 L217.9,253.4 L217.9,255.4 L217.9,257.4 L218.0,259.5 L218.0,261.5 L218.0,263.5 L218.0,265.6 L218.1,267.6 L218.1,269.6 L218.1,271.7 L218.2,273.7 L218.2,275.7 L218.2,277.8 L218.2,279.8 L218.3,281.8 L218.3,283.9 L218.3,285.9 L218.3,287.9 L218.4,290.0 L218.4,292.0 L218.4,294.0 L218.4,296.0 L218.5,298.1 L218.5,300.1 L218.5,302.1 L218.5,304.2 L218.6,306.2 L218.6,308.2 L218.6,310.3 L218.7,312.3 L218.7,314.3 L218.7,316.4 L218.7,318.4 L218.7,320.5 L218.8,322.5 L218.8,324.5 L218.8,326.6 L218.8,328.6 L218.9,330.6 L218.9,332.7 L218.9,334.7 L218.9,336.8 L218.9,338.8 L219.0,340.8 L219.0,342.9 L219.0,344.9 L219.0,347.0 L219.0,349.0 L219.0,351.1 L219.0,352.5 L219.1,353.1 L219.1,355.2 L219.1,357.2 L219.1,359.3 L219.1,361.3 L219.1,363.4 L219.1,365.4 L219.1,367.5 L219.1,369.5 L219.1,371.6 L219.2,373.7 L219.2,375.7 L219.2,377.8 L219.2,379.8 L219.2,381.9 L219.2,384.0 L219.2,386.0 L219.2,388.1 L219.2,390.2 L219.2,392.3 L219.2,394.3 L219.1,396.4 L219.1,398.5 L219.1,400.6 L219.1,402.6 L219.1,402.6 L219.1,404.7 L219.1,406.8 L219.1,408.9 L219.1,411.0 L219.1,413.1 L219.0,415.2 L219.0,417.3 L219.0,419.4 L219.0,420.2 L219.0,421.4 L219.0,423.5 L218.9,425.6 L218.9,427.7 L218.9,429.8 L218.9,431.9 L219.0,434.0 L219.0,436.1 L219.1,438.2 L219.1,439.2 L219.2,440.2 L219.3,442.3 L219.4,444.3 L219.6,446.4 L219.8,448.4 L220.1,450.4 L220.4,452.4 L220.5,452.9 L220.7,454.4 L221.1,456.3 L221.6,458.3 L222.1,460.2 L222.6,461.9 L222.7,462.1 L223.3,464.0 L224.0,465.8 L224.8,467.7 L225.4,469.1 L225.6,469.5 L226.5,471.3 L227.3,472.7 L227.5,473.0 L228.5,474.7 L229.6,476.4 L230.1,477.1 L230.8,478.0 L232.0,479.7 L233.3,481.2 L234.7,482.7 L235.1,483.2 L236.1,484.2 L237.5,485.6 L239.0,487.0 L240.6,488.3 L241.9,489.4 L242.2,489.6 L243.8,490.8 L245.5,491.9 L247.2,493.0 L249.0,494.0 L249.9,494.6 L250.8,495.0 L252.6,496.0 L254.4,496.9 L256.3,497.7 L258.2,498.6 L259.4,499.1 L260.1,499.4 L262.0,500.2 L263.9,500.9 L265.9,501.6 L267.8,502.3 L269.8,503.0 L269.9,503.0 L271.8,503.7 L273.7,504.4 L275.7,505.0 L277.7,505.6 L278.7,506.0 L279.6,506.3 L281.6,506.9 L283.6,507.5 L285.6,508.1 L287.5,508.6 L289.5,509.2 L291.5,509.8 L293.5,510.3 L295.5,510.8 L297.3,511.3 L297.5,511.3 L299.5,511.9 L301.4,512.3 L303.4,512.8 L305.4,513.3 L307.4,513.8 L309.4,514.2 L311.4,514.7 L313.4,515.1 L315.4,515.5 L315.9,515.6 L317.4,515.9 L319.4,516.4 L321.5,516.8 L323.5,517.1 L325.5,517.5 L327.5,517.9 L329.5,518.3 L331.5,518.6 L333.5,519.0 L335.6,519.3 L337.6,519.6 L339.6,520.0 L340.1,520.0 L341.6,520.3 L343.6,520.6 L345.7,520.9 L347.7,521.2 L349.7,521.5 L351.7,521.8 L353.8,522.0 L355.5,522.3 L355.8,522.3 L357.8,522.6 L359.8,522.8 L361.9,523.1 L363.9,523.3 L365.9,523.6 L368.0,523.8 L370.0,524.0 L372.0,524.3 L374.1,524.5 L376.1,524.7 L378.2,524.9 L380.2,525.1 L382.2,525.3 L382.8,525.4 L384.3,525.6 L386.3,525.7 L388.3,525.9 L390.4,526.1 L392.4,526.3 L394.5,526.5 L396.5,526.7 L398.5,526.9 L400.6,527.1 L402.6,527.2 L404.7,527.4 L406.7,527.6 L407.6,527.7 L408.8,527.8 L410.8,527.9 L412.8,528.1 L414.9,528.3 L416.9,528.4 L419.0,528.6 L421.0,528.8 L423.0,528.9 L425.1,529.1 L427.1,529.2 L429.2,529.4 L431.2,529.5 L432.5,529.6 L433.3,529.7 L435.3,529.8 L437.4,530.0 L439.4,530.1 L441.4,530.3 L443.5,530.4 L445.5,530.6 L447.6,530.7 L449.6,530.9 L451.7,531.0 L453.7,531.1 L455.7,531.3 L457.8,531.4 L459.8,531.6 L460.0,531.6 L461.9,531.7 L463.9,531.8 L466.0,531.9 L468.0,532.1 L470.1,532.2 L472.1,532.3 L474.1,532.5 L476.2,532.6 L478.2,532.7 L480.3,532.8 L482.3,532.9 L484.4,533.1 L486.4,533.2 L488.5,533.3 L490.5,533.4 L492.6,533.5 L494.6,533.6 L496.6,533.7 L498.7,533.9 L500.7,534.0 L502.8,534.1 L504.8,534.2 L506.9,534.3 L508.9,534.4 L509.7,534.4 L511.0,534.5 L513.0,534.6 L515.1,534.7 L517.1,534.8 L519.2,534.9 L521.2,535.0 L523.3,535.1 L525.3,535.2 L527.3,535.3 L529.4,535.3 L531.4,535.4 L533.5,535.5 L535.5,535.6 L537.6,535.7 L539.6,535.8 L541.7,535.9 L543.7,536.0 L545.8,536.0 L547.8,536.1 L549.9,536.2 L551.9,536.3 L554.0,536.4 L556.0,536.4 L558.1,536.5 L560.1,536.6 L561.8,536.6 L562.2,536.7 L564.2,536.7 L566.3,536.8 L568.3,536.9 L570.3,536.9 L572.4,537.0 L574.4,537.1 L576.5,537.2 L578.5,537.2 L580.6,537.3 L582.6,537.3 L584.7,537.4 L586.7,537.5 L588.8,537.5 L590.8,537.6 L592.9,537.7 L594.9,537.7 L597.0,537.8 L599.0,537.8 L601.1,537.9 L603.1,537.9 L605.2,538.0 L607.2,538.1 L609.3,538.1 L611.3,538.2 L613.4,538.2 L615.4,538.3 L617.5,538.3 L619.5,538.4 L620.0,538.4 L621.6,538.4 L623.6,538.5 L625.7,538.5 L627.7,538.5 L629.8,538.6 L631.8,538.6 L633.9,538.7 L635.9,538.7 L638.0,538.8 L640.0,538.8 L642.1,538.9 L644.1,538.9 L646.2,538.9 L648.2,539.0 L650.3,539.0 L652.3,539.0 L654.4,539.1 L656.4,539.1 L658.5,539.2 L660.5,539.2 L662.6,539.2 L664.6,539.3 L666.7,539.3 L668.7,539.3 L670.8,539.4 L672.8,539.4 L674.9,539.4 L676.9,539.4 L679.0,539.5 L681.0,539.5 L683.1,539.5 L685.1,539.6 L687.2,539.6 L689.2,539.6 L691.3,539.6 L693.3,539.7 L695.4,539.7 L697.4,539.7 L699.5,539.7 L701.5,539.8 L703.6,539.8 L705.6,539.8 L707.7,539.8 L709.7,539.9 L711.8,539.9 L713.8,539.9 L715.9,539.9 L717.9,539.9 L720.0,540.0 L722.0,540.0 L724.1,540.0 L726.1,540.0 L728.2,540.0 L730.2,540.1 L732.3,540.1 L734.3,540.1 L736.4,540.1 L738.4,540.1 L740.5,540.1 L742.5,540.2 L744.6,540.2 L746.6,540.2 L748.7,540.2 L750.7,540.2 L752.8,540.2 L754.8,540.3 L756.9,540.3 L758.9,540.3 L761.0,540.3 L763.0,540.3 L765.1,540.3 L767.1,540.3 L769.2,540.3 L771.2,540.4 L773.3,540.4 L775.3,540.4 L777.4,540.4 L779.4,540.4 L780.1,540.4 L781.5,540.4 L783.5,540.4 L785.6,540.4 L787.6,540.5 L789.7,540.5 L791.7,540.5 L793.8,540.5 L795.8,540.5 L797.9,540.5 L799.9,540.5 L802.0,540.5 L804.0,540.5 L806.1,540.5 L808.1,540.6 L810.2,540.6 L812.2,540.6 L814.3,540.6 L816.3,540.6 L818.4,540.6 L820.4,540.6 L822.5,540.6 L824.5,540.6 L826.6,540.6 L828.6,540.7 L830.7,540.7 L832.7,540.7 L834.8,540.7 L836.8,540.7 L838.9,540.7 L840.9,540.7 L843.0,540.7 L845.0,540.7 L847.1,540.7 L849.1,540.8 L851.2,540.8 L853.2,540.8 L855.3,540.8 L857.3,540.8 L859.4,540.8 L861.4,540.8 L863.5,540.8 L865.5,540.8 L867.6,540.8 L869.6,540.9 L871.7,540.9 L873.7,540.9 L875.8,540.9 L877.8,540.9 L879.9,540.9 L881.9,540.9 L884.0,540.9 L886.0,541.0 L888.1,541.0 L890.1,541.0 L892.1,541.0 L894.2,541.0 L896.2,541.0 L898.3,541.0 L900.3,541.1 L902.4,541.1 L904.4,541.1 L906.5,541.1 L908.5,541.1 L910.6,541.1 L912.6,541.2 L914.7,541.2 L916.7,541.2 L918.8,541.2 L920.8,541.2 L922.9,541.2 L924.9,541.3 L927.0,541.3 L929.0,541.3"/>
</g>
<rect x="110.6" y="1.2" width="855.5" height="566.5999999999999" fill="none" stroke="#000" stroke-width="2.04"/>
<g stroke="#000" stroke-width="2.04">
<path d="M149.4,567.8 v8.95"/>
<path d="M355.8,567.8 v8.95"/>
<path d="M562.1,567.8 v8.95"/>
<path d="M768.5,567.8 v8.95"/>
<path d="M110.6,543.2 h-8.95"/>
<path d="M110.6,448.4 h-8.95"/>
<path d="M110.6,353.6 h-8.95"/>
<path d="M110.6,258.8 h-8.95"/>
<path d="M110.6,164.0 h-8.95"/>
<path d="M110.6,69.2 h-8.95"/>
</g>
<text x="149.4" y="605" text-anchor="middle">0</text>
<text x="355.8" y="605" text-anchor="middle">200</text>
<text x="562.1" y="605" text-anchor="middle">400</text>
<text x="768.5" y="605" text-anchor="middle">600</text>
<text x="92.8" y="553" text-anchor="end">0.00</text>
<text x="92.8" y="458" text-anchor="end">0.02</text>
<text x="92.8" y="363" text-anchor="end">0.04</text>
<text x="92.8" y="269" text-anchor="end">0.06</text>
<text x="92.8" y="174" text-anchor="end">0.08</text>
<text x="92.8" y="79" text-anchor="end">0.10</text>
<text x="539.1" y="640" text-anchor="middle">Epoch</text>
<text transform="translate(20,285.2) rotate(-90)" text-anchor="middle">Training Loss</text>
<rect x="658.9" y="14.5" width="294.7" height="192.9" rx="4.5" ry="4.5" fill="#fff" fill-opacity="0.8" stroke="#ccc" stroke-opacity="0.9" stroke-width="2.3"/>
<path d="M667.3,34.8 H722" stroke="#1f77b4" stroke-opacity="0.7" stroke-width="3.84" fill="none"/>
<text x="740.4" y="44">Gowalla</text>
<path d="M667.3,72.0 H722" stroke="#ff7f0e" stroke-opacity="0.7" stroke-width="3.84" fill="none"/>
<text x="740.4" y="81">Amazon-book</text>
<path d="M667.3,109.3 H722" stroke="#2ca02c" stroke-opacity="0.7" stroke-width="3.84" fill="none"/>
<text x="740.4" y="118">Movielens-1M</text>
<path d="M667.3,146.6 H722" stroke="#d62728" stroke-opacity="0.7" stroke-width="3.84" fill="none"/>
<text x="740.4" y="155">Movielens-100K</text>
<path d="M667.3,183.8 H722" stroke="#9467bd" stroke-opacity="0.7" stroke-width="3.84" fill="none"/>
<text x="740.4" y="192">Yelp2018</text>
</svg></body></html>
